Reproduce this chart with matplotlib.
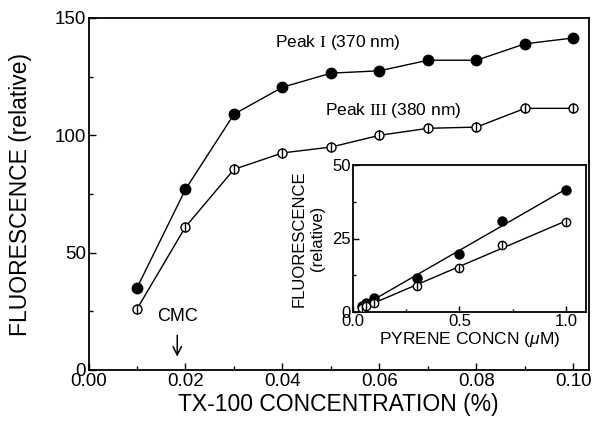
import numpy as np
import matplotlib
matplotlib.use("Agg")
import matplotlib.pyplot as plt
from matplotlib.ticker import MultipleLocator, FormatStrFormatter

plt.rcParams['font.family'] = ['Liberation Sans', 'DejaVu Sans']
plt.rcParams['mathtext.fontset'] = 'custom'
plt.rcParams['mathtext.rm'] = 'Liberation Serif'
plt.rcParams['mathtext.it'] = 'Liberation Sans:italic'

# Main data
tx_conc = [0.01, 0.02, 0.03, 0.04, 0.05, 0.06, 0.07, 0.08, 0.09, 0.10]
peak1 = [35, 77, 109, 120.5, 126.5, 127.5, 132, 132, 139, 141.5]
peak3 = [26, 61, 85.5, 92.5, 95, 100, 103, 103.5, 111.5, 111.5]

# Inset data
pyrene = [0.04, 0.06, 0.10, 0.30, 0.50, 0.70, 1.00]
ins_peak1 = [2.0, 3.0, 4.7, 11.6, 19.7, 31.0, 41.5]
ins_peak3 = [1.5, 2.0, 3.0, 8.8, 15.0, 22.8, 30.6]

W, H = 595, 422
fig = plt.figure(figsize=(W / 100, H / 100), dpi=100)

def frac(l, t, r, b):
    return [l / W, 1 - b / H, (r - l) / W, (b - t) / H]

ax = fig.add_axes(frac(88.5, 18, 589, 370))
lw = 1.0
ax.plot(tx_conc, peak1, '-', color='black', lw=lw, marker='o', ms=7.5,
        mfc='black', mec='black', zorder=3)
ax.plot(tx_conc, peak3, '-', color='black', lw=lw, marker='o', ms=6.5,
        mfc='white', mec='black', mew=1.0, zorder=3)
ax.plot(tx_conc, peak3, 'none', marker='|', ms=6.5, mec='black', mew=1.0,
        zorder=4)

ax.set_xlim(0, 0.1032)
ax.set_ylim(0, 150)
ax.xaxis.set_major_locator(MultipleLocator(0.02))
ax.xaxis.set_minor_locator(MultipleLocator(0.01))
ax.yaxis.set_major_locator(MultipleLocator(50))
ax.yaxis.set_minor_locator(MultipleLocator(25))
ax.xaxis.set_major_formatter(FormatStrFormatter('%.2f'))
ax.tick_params(which='both', direction='in', top=False, right=False,
               labelsize=13.5, width=1.0)
ax.tick_params(which='major', length=5, pad=2)
ax.tick_params(which='minor', length=3)
for s in ax.spines.values():
    s.set_linewidth(1.3)

ax.set_xlabel('TX-100 CONCENTRATION (%)', fontsize=16.5, labelpad=2)
ax.set_ylabel('FLUORESCENCE (relative)', fontsize=16.5, labelpad=16)

ax.text(0.0385, 139.5, r'Peak $\mathrm{I}$ (370 nm)', fontsize=12.5,
        ha='left', va='center')
ax.text(0.0488, 110.5, r'Peak $\mathrm{III}$ (380 nm)', fontsize=12.5,
        ha='left', va='center')
ax.text(0.0184, 22.8, 'CMC', fontsize=13, ha='center', va='center')
ax.annotate('', xy=(0.0183, 4.5), xytext=(0.0183, 16),
            arrowprops=dict(arrowstyle='->', color='black', lw=1.1,
                            mutation_scale=15))

# Inset
ins = fig.add_axes(frac(353, 165, 586, 312))
x = np.array(pyrene)
for ydat, filled in ((ins_peak1, True), (ins_peak3, False)):
    p = np.polyfit(x, ydat, 1)
    xf = np.array([min(pyrene) - 0.01, max(pyrene)])
    ins.plot(xf, np.polyval(p, xf), '-', color='black', lw=lw, zorder=2)
    if filled:
        ins.plot(pyrene, ydat, 'none', marker='o', ms=6.5, mfc='black',
                 mec='black', zorder=3)
    else:
        ins.plot(pyrene, ydat, 'none', marker='o', ms=6, mfc='white',
                 mec='black', mew=1.0, zorder=3)
        ins.plot(pyrene, ydat, 'none', marker='|', ms=6, mec='black',
                 mew=1.0, zorder=4)
ins.set_xlim(0, 1.094)
ins.set_ylim(0, 50)
ins.xaxis.set_major_locator(MultipleLocator(0.5))
ins.xaxis.set_minor_locator(MultipleLocator(0.25))
ins.yaxis.set_major_locator(MultipleLocator(25))
ins.yaxis.set_minor_locator(MultipleLocator(12.5))
ins.xaxis.set_major_formatter(FormatStrFormatter('%.1f'))
ins.tick_params(which='both', direction='in', top=False, right=False,
                labelsize=12, width=1.0, pad=1.5)
ins.tick_params(which='major', length=4)
ins.tick_params(which='minor', length=2.5)
for s in ins.spines.values():
    s.set_linewidth(1.3)
ins.set_xlabel(r'PYRENE CONCN ($\mathit{\mu}$M)', fontsize=12.5, labelpad=1)
ins.set_ylabel('FLUORESCENCE\n(relative)', fontsize=12, labelpad=5,
               linespacing=1.35)

fig.savefig('out.png', dpi=100)
